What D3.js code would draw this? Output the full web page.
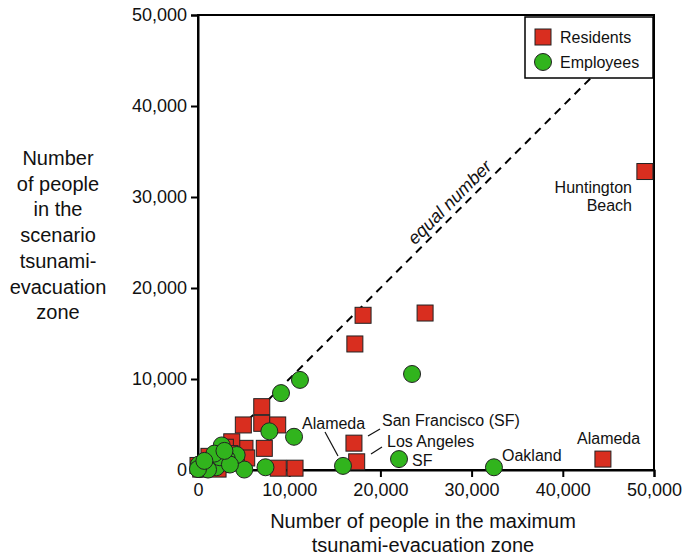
<!DOCTYPE html>
<html>
<head>
<meta charset="utf-8">
<script src="https://cdn.jsdelivr.net/npm/d3@7"></script>
<style>
  html, body { margin: 0; padding: 0; background: #fff; }
  svg { display: block; font-family: "Liberation Sans", Arial, Helvetica, sans-serif; }
</style>
</head>
<body>
<svg id="chart" width="686" height="556"></svg>
<script>
// Residents: people in the maximum zone vs. the scenario zone
const residentsMax = [49000, 44400, 18100, 24900, 17200, 17100, 17400, 6990, 4970, 6990, 8740, 7270, 5150, 5340, 8800, 10640, 3700, 3000, 500, 1000, 1500, 2000, 2500, 3500, 4200, 300, 800, 1200, 0, 2200];
const residentsScenario = [32800, 1200, 17000, 17250, 13850, 2950, 900, 6960, 4950, 5130, 4950, 2380, 2380, 1320, 200, 200, 3100, 2500, 300, 800, 400, 1200, 600, 1800, 900, 100, 200, 1500, 500, 100];

// Employees: people in the maximum zone vs. the scenario zone
const employeesMax = [32450, 22040, 15900, 23470, 11180, 9100, 10530, 7820, 7400, 5080, 2600, 4240, 3150, 1300, 400, 200, 600, 900, 1500, 2000, 2400, 3500, 100, 1100, 1800, 2900, 0, 700];
const employeesScenario = [300, 1200, 450, 10550, 9900, 8450, 3650, 4250, 300, 50, 2700, 1650, 1250, 1100, 300, 100, 500, 200, 700, 300, 1400, 600, 600, 50, 1800, 2100, 100, 1000];

const tickValues = [0, 10000, 20000, 30000, 40000, 50000];
const equalLineEnd = 46800;

const placeNames = ["Huntington\nBeach", "Alameda", "Alameda", "San Francisco (SF)", "Los Angeles", "SF", "Oakland"];

const yTitle = ["Number", "of people", "in the", "scenario", "tsunami-", "evacuation", "zone"];
const xTitle = ["Number of people in the maximum", "tsunami-evacuation zone"];

const RED = "#d92e1f";
const GREEN = "#31b41d";

const svg = d3.select("#chart");
const plotLeft = 198, plotRight = 654, plotTop = 15, plotBottom = 470;

const x = d3.scaleLinear().domain([0, 50000]).range([plotLeft, plotRight]);
const y = d3.scaleLinear().domain([0, 50000]).range([plotBottom, plotTop]);
const fmt = d3.format(",");

// frame
svg.append("rect")
  .attr("x", plotLeft).attr("y", plotTop)
  .attr("width", plotRight - plotLeft).attr("height", plotBottom - plotTop)
  .attr("fill", "none").attr("stroke", "#000").attr("stroke-width", 2);

// axes
const xAxis = svg.append("g").attr("transform", `translate(0,${plotBottom})`)
  .call(d3.axisBottom(x).tickValues(tickValues).tickFormat(fmt).tickSize(7).tickPadding(6));
const yAxis = svg.append("g").attr("transform", `translate(${plotLeft},0)`)
  .call(d3.axisLeft(y).tickValues(tickValues).tickFormat(fmt).tickSize(7).tickPadding(4));
[xAxis, yAxis].forEach(g => {
  g.select(".domain").attr("stroke", "#000").attr("stroke-width", 2);
  g.selectAll(".tick line").attr("stroke", "#000").attr("stroke-width", 2);
  g.selectAll(".tick text").attr("fill", "#111").style("font-size", "18px")
    .style("font-family", '"Liberation Sans", Arial, sans-serif');
});

// equal-number reference line
svg.append("line")
  .attr("x1", x(0)).attr("y1", y(0))
  .attr("x2", x(equalLineEnd)).attr("y2", y(equalLineEnd))
  .attr("stroke", "#000").attr("stroke-width", 2)
  .attr("stroke-dasharray", "8,6");

const midV = 28500;
svg.append("text")
  .attr("transform", `translate(${x(midV) - 4},${y(midV) - 4}) rotate(-45)`)
  .attr("text-anchor", "middle")
  .style("font-size", "18px").style("font-style", "italic")
  .attr("fill", "#111")
  .text("equal number");

// residents (squares)
const sq = 16;
svg.append("g").selectAll("rect")
  .data(d3.range(residentsMax.length))
  .join("rect")
  .attr("x", i => x(residentsMax[i]) - sq / 2)
  .attr("y", i => y(residentsScenario[i]) - sq / 2)
  .attr("width", sq).attr("height", sq)
  .attr("fill", RED).attr("stroke", "#222").attr("stroke-width", 1);

// employees (circles)
svg.append("g").selectAll("circle")
  .data(d3.range(employeesMax.length))
  .join("circle")
  .attr("cx", i => x(employeesMax[i]))
  .attr("cy", i => y(employeesScenario[i]))
  .attr("r", 8.5)
  .attr("fill", GREEN).attr("stroke", "#222").attr("stroke-width", 1);

// place labels
const labelSpec = [
  { name: placeNames[0], tx: 632, ty: 193, anchor: "end" },
  { name: placeNames[1], tx: 577, ty: 444, anchor: "start" },
  { name: placeNames[2], tx: 302, ty: 429, anchor: "start" },
  { name: placeNames[3], tx: 382, ty: 426, anchor: "start" },
  { name: placeNames[4], tx: 387, ty: 447, anchor: "start" },
  { name: placeNames[5], tx: 412, ty: 466, anchor: "start" },
  { name: placeNames[6], tx: 502, ty: 461, anchor: "start" }
];
labelSpec.forEach(l => {
  const t = svg.append("text")
    .attr("text-anchor", l.anchor)
    .style("font-size", "16px").attr("fill", "#111");
  l.name.split("\n").forEach((line, k) => {
    t.append("tspan").attr("x", l.tx).attr("y", l.ty + k * 18).text(line);
  });
});

// leader lines from labels to their markers
const leaders = [
  [325, 432, 338, 456],
  [380, 429, 368, 436],
  [382, 447, 371, 454]
];
svg.append("g").selectAll("line").data(leaders).join("line")
  .attr("x1", d => d[0]).attr("y1", d => d[1])
  .attr("x2", d => d[2]).attr("y2", d => d[3])
  .attr("stroke", "#111").attr("stroke-width", 1.2);

// legend
const lg = svg.append("g");
lg.append("rect").attr("x", 525).attr("y", 17).attr("width", 128).attr("height", 61)
  .attr("fill", "#fff").attr("stroke", "#000").attr("stroke-width", 1.5);
lg.append("rect").attr("x", 535).attr("y", 29).attr("width", sq).attr("height", sq)
  .attr("fill", RED).attr("stroke", "#222");
lg.append("circle").attr("cx", 543).attr("cy", 62).attr("r", 8.5)
  .attr("fill", GREEN).attr("stroke", "#222");
lg.append("text").attr("x", 560).attr("y", 43).style("font-size", "16px").attr("fill", "#111").text("Residents");
lg.append("text").attr("x", 560).attr("y", 68).style("font-size", "16px").attr("fill", "#111").text("Employees");

// axis titles
const yt = svg.append("text").attr("text-anchor", "middle").style("font-size", "20px").attr("fill", "#111");
yTitle.forEach((line, k) => yt.append("tspan").attr("x", 58).attr("y", 165 + k * 25.7).text(line));
const xt = svg.append("text").attr("text-anchor", "middle").style("font-size", "20px").attr("fill", "#111");
xTitle.forEach((line, k) => xt.append("tspan").attr("x", 423).attr("y", 528 + k * 24).text(line));
</script>
</body>
</html>
